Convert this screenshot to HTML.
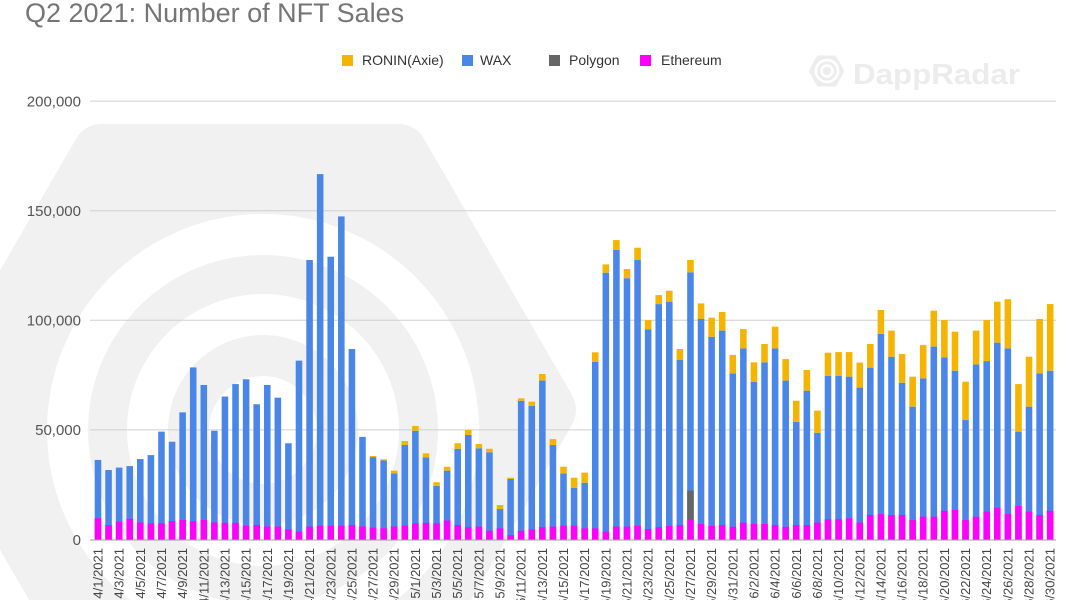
<!DOCTYPE html>
<html><head><meta charset="utf-8"><style>
html,body{margin:0;padding:0;background:#fff;width:1080px;height:600px;overflow:hidden;}
svg{display:block;font-family:"Liberation Sans",Arial,sans-serif;}
</style></head><body>
<svg width="1080" height="600" viewBox="0 0 1080 600" xmlns="http://www.w3.org/2000/svg" overflow="hidden">
<rect width="1080" height="600" fill="#fff"/>
<!-- watermark -->
<g>
<polygon points="546,410 398,666.3 102,666.3 -46,410 102,153.7 398,153.7" fill="#f1f1f1" stroke="#f1f1f1" stroke-width="60" stroke-linejoin="round"/>
<circle cx="263" cy="430" r="216" fill="#fff"/>
<circle cx="263" cy="430" r="175" fill="#f1f1f1"/>
<circle cx="263" cy="430" r="136" fill="#fff"/>
<circle cx="263" cy="430" r="95" fill="#f1f1f1"/>
<circle cx="263" cy="430" r="54" fill="#fff"/>
</g>
<!-- DappRadar logo -->
<g>
<polygon points="841,71 834,58.5 819,58.5 812,71 819,83.5 834,83.5" fill="#ededed" stroke="#ededed" stroke-width="6" stroke-linejoin="round"/>
<circle cx="827" cy="71" r="11" fill="none" stroke="#fff" stroke-width="2.5"/>
<circle cx="827" cy="71" r="5.5" fill="none" stroke="#fff" stroke-width="2.5"/>
<text x="853" y="84" font-size="29" font-weight="bold" fill="#ececec" textLength="167" lengthAdjust="spacingAndGlyphs">DappRadar</text>
</g>
<!-- title -->
<text x="25" y="22" font-size="27" fill="#757575">Q2 2021: Number of NFT Sales</text>
<!-- legend -->
<g font-size="14" fill="#333">
<rect x="342" y="55" width="11" height="11" fill="#f4b400"/><text x="362" y="65">RONIN(Axie)</text>
<rect x="462" y="55" width="11" height="11" fill="#4a86e8"/><text x="480" y="65">WAX</text>
<rect x="549" y="55" width="11" height="11" fill="#666666"/><text x="569" y="65">Polygon</text>
<rect x="640" y="55" width="11" height="11" fill="#ff00ff"/><text x="661" y="65">Ethereum</text>
</g>
<!-- gridlines -->
<g stroke="#d0d0d0" stroke-width="1">
<line x1="90" y1="101.1" x2="1056" y2="101.1"/>
<line x1="90" y1="210.7" x2="1056" y2="210.7"/>
<line x1="90" y1="320.3" x2="1056" y2="320.3"/>
<line x1="90" y1="429.9" x2="1056" y2="429.9"/>
</g>
<!-- y labels -->
<g font-size="15" fill="#555" text-anchor="end">
<text x="81" y="106.5">200,000</text>
<text x="81" y="216">150,000</text>
<text x="81" y="325.5">100,000</text>
<text x="81" y="435">50,000</text>
<text x="81" y="545">0</text>
</g>
<!-- bars -->
<g transform="translate(94.7,539.5) scale(10.58,-2.192)">
<g fill="#4a86e8">
<rect x="0" y="0" width="0.62" height="36.3"/>
<rect x="1" y="0" width="0.62" height="31.7"/>
<rect x="2" y="0" width="0.62" height="32.8"/>
<rect x="3" y="0" width="0.62" height="33.5"/>
<rect x="4" y="0" width="0.62" height="36.7"/>
<rect x="5" y="0" width="0.62" height="38.5"/>
<rect x="6" y="0" width="0.62" height="49.2"/>
<rect x="7" y="0" width="0.62" height="44.6"/>
<rect x="8" y="0" width="0.62" height="58.0"/>
<rect x="9" y="0" width="0.62" height="78.5"/>
<rect x="10" y="0" width="0.62" height="70.5"/>
<rect x="11" y="0" width="0.62" height="49.6"/>
<rect x="12" y="0" width="0.62" height="65.2"/>
<rect x="13" y="0" width="0.62" height="70.9"/>
<rect x="14" y="0" width="0.62" height="73.1"/>
<rect x="15" y="0" width="0.62" height="61.7"/>
<rect x="16" y="0" width="0.62" height="70.5"/>
<rect x="17" y="0" width="0.62" height="64.7"/>
<rect x="18" y="0" width="0.62" height="43.9"/>
<rect x="19" y="0" width="0.62" height="81.6"/>
<rect x="20" y="0" width="0.62" height="127.5"/>
<rect x="21" y="0" width="0.62" height="166.7"/>
<rect x="22" y="0" width="0.62" height="129.0"/>
<rect x="23" y="0" width="0.62" height="147.4"/>
<rect x="24" y="0" width="0.62" height="86.9"/>
<rect x="25" y="0" width="0.62" height="46.8"/>
<rect x="26" y="0" width="0.62" height="37.6"/>
<rect x="27" y="0" width="0.62" height="36.1"/>
<rect x="28" y="0" width="0.62" height="30.2"/>
<rect x="29" y="0" width="0.62" height="43.1"/>
<rect x="30" y="0" width="0.62" height="49.6"/>
<rect x="31" y="0" width="0.62" height="37.5"/>
<rect x="32" y="0" width="0.62" height="24.5"/>
<rect x="33" y="0" width="0.62" height="31.4"/>
<rect x="34" y="0" width="0.62" height="41.4"/>
<rect x="35" y="0" width="0.62" height="47.7"/>
<rect x="36" y="0" width="0.62" height="41.6"/>
<rect x="37" y="0" width="0.62" height="39.8"/>
<rect x="38" y="0" width="0.62" height="13.9"/>
<rect x="39" y="0" width="0.62" height="27.6"/>
<rect x="40" y="0" width="0.62" height="63.3"/>
<rect x="41" y="0" width="0.62" height="61.0"/>
<rect x="42" y="0" width="0.62" height="72.5"/>
<rect x="43" y="0" width="0.62" height="43.1"/>
<rect x="44" y="0" width="0.62" height="30.2"/>
<rect x="45" y="0" width="0.62" height="23.6"/>
<rect x="46" y="0" width="0.62" height="25.9"/>
<rect x="47" y="0" width="0.62" height="81.1"/>
<rect x="48" y="0" width="0.62" height="121.7"/>
<rect x="49" y="0" width="0.62" height="132.1"/>
<rect x="50" y="0" width="0.62" height="119.2"/>
<rect x="51" y="0" width="0.62" height="127.5"/>
<rect x="52" y="0" width="0.62" height="95.9"/>
<rect x="53" y="0" width="0.62" height="107.4"/>
<rect x="54" y="0" width="0.62" height="108.5"/>
<rect x="55" y="0" width="0.62" height="81.9"/>
<rect x="56" y="0" width="0.62" height="121.9"/>
<rect x="57" y="0" width="0.62" height="100.6"/>
<rect x="58" y="0" width="0.62" height="92.5"/>
<rect x="59" y="0" width="0.62" height="95.3"/>
<rect x="60" y="0" width="0.62" height="75.8"/>
<rect x="61" y="0" width="0.62" height="87.2"/>
<rect x="62" y="0" width="0.62" height="72.0"/>
<rect x="63" y="0" width="0.62" height="80.8"/>
<rect x="64" y="0" width="0.62" height="87.2"/>
<rect x="65" y="0" width="0.62" height="72.5"/>
<rect x="66" y="0" width="0.62" height="53.7"/>
<rect x="67" y="0" width="0.62" height="67.9"/>
<rect x="68" y="0" width="0.62" height="48.7"/>
<rect x="69" y="0" width="0.62" height="74.7"/>
<rect x="70" y="0" width="0.62" height="74.7"/>
<rect x="71" y="0" width="0.62" height="74.3"/>
<rect x="72" y="0" width="0.62" height="69.3"/>
<rect x="73" y="0" width="0.62" height="78.4"/>
<rect x="74" y="0" width="0.62" height="93.8"/>
<rect x="75" y="0" width="0.62" height="83.4"/>
<rect x="76" y="0" width="0.62" height="71.5"/>
<rect x="77" y="0" width="0.62" height="60.6"/>
<rect x="78" y="0" width="0.62" height="73.5"/>
<rect x="79" y="0" width="0.62" height="88.0"/>
<rect x="80" y="0" width="0.62" height="83.1"/>
<rect x="81" y="0" width="0.62" height="77.0"/>
<rect x="82" y="0" width="0.62" height="54.5"/>
<rect x="83" y="0" width="0.62" height="79.9"/>
<rect x="84" y="0" width="0.62" height="81.4"/>
<rect x="85" y="0" width="0.62" height="89.8"/>
<rect x="86" y="0" width="0.62" height="87.2"/>
<rect x="87" y="0" width="0.62" height="49.2"/>
<rect x="88" y="0" width="0.62" height="60.6"/>
<rect x="89" y="0" width="0.62" height="75.8"/>
<rect x="90" y="0" width="0.62" height="77.0"/>
</g>
<g fill="#ff00ff">
<rect x="0" y="0" width="0.62" height="9.7"/>
<rect x="1" y="0" width="0.62" height="6.6"/>
<rect x="2" y="0" width="0.62" height="8.1"/>
<rect x="3" y="0" width="0.62" height="9.4"/>
<rect x="4" y="0" width="0.62" height="7.8"/>
<rect x="5" y="0" width="0.62" height="7.4"/>
<rect x="6" y="0" width="0.62" height="7.4"/>
<rect x="7" y="0" width="0.62" height="8.4"/>
<rect x="8" y="0" width="0.62" height="8.9"/>
<rect x="9" y="0" width="0.62" height="8.4"/>
<rect x="10" y="0" width="0.62" height="8.9"/>
<rect x="11" y="0" width="0.62" height="7.8"/>
<rect x="12" y="0" width="0.62" height="7.6"/>
<rect x="13" y="0" width="0.62" height="7.6"/>
<rect x="14" y="0" width="0.62" height="6.3"/>
<rect x="15" y="0" width="0.62" height="6.6"/>
<rect x="16" y="0" width="0.62" height="5.9"/>
<rect x="17" y="0" width="0.62" height="5.9"/>
<rect x="18" y="0" width="0.62" height="4.6"/>
<rect x="19" y="0" width="0.62" height="3.6"/>
<rect x="20" y="0" width="0.62" height="5.9"/>
<rect x="21" y="0" width="0.62" height="6.3"/>
<rect x="22" y="0" width="0.62" height="6.3"/>
<rect x="23" y="0" width="0.62" height="6.3"/>
<rect x="24" y="0" width="0.62" height="6.6"/>
<rect x="25" y="0" width="0.62" height="5.9"/>
<rect x="26" y="0" width="0.62" height="5.4"/>
<rect x="27" y="0" width="0.62" height="5.1"/>
<rect x="28" y="0" width="0.62" height="5.9"/>
<rect x="29" y="0" width="0.62" height="6.3"/>
<rect x="30" y="0" width="0.62" height="7.4"/>
<rect x="31" y="0" width="0.62" height="7.6"/>
<rect x="32" y="0" width="0.62" height="7.4"/>
<rect x="33" y="0" width="0.62" height="8.7"/>
<rect x="34" y="0" width="0.62" height="6.6"/>
<rect x="35" y="0" width="0.62" height="5.6"/>
<rect x="36" y="0" width="0.62" height="5.9"/>
<rect x="37" y="0" width="0.62" height="4.0"/>
<rect x="38" y="0" width="0.62" height="5.1"/>
<rect x="39" y="0" width="0.62" height="2.0"/>
<rect x="40" y="0" width="0.62" height="4.0"/>
<rect x="41" y="0" width="0.62" height="4.6"/>
<rect x="42" y="0" width="0.62" height="5.6"/>
<rect x="43" y="0" width="0.62" height="5.9"/>
<rect x="44" y="0" width="0.62" height="6.3"/>
<rect x="45" y="0" width="0.62" height="6.3"/>
<rect x="46" y="0" width="0.62" height="5.1"/>
<rect x="47" y="0" width="0.62" height="5.1"/>
<rect x="48" y="0" width="0.62" height="3.6"/>
<rect x="49" y="0" width="0.62" height="5.9"/>
<rect x="50" y="0" width="0.62" height="5.9"/>
<rect x="51" y="0" width="0.62" height="6.3"/>
<rect x="52" y="0" width="0.62" height="4.8"/>
<rect x="53" y="0" width="0.62" height="5.6"/>
<rect x="54" y="0" width="0.62" height="6.2"/>
<rect x="55" y="0" width="0.62" height="6.6"/>
<rect x="56" y="0" width="0.62" height="8.9"/>
<rect x="57" y="0" width="0.62" height="7.1"/>
<rect x="58" y="0" width="0.62" height="6.2"/>
<rect x="59" y="0" width="0.62" height="6.6"/>
<rect x="60" y="0" width="0.62" height="5.8"/>
<rect x="61" y="0" width="0.62" height="7.7"/>
<rect x="62" y="0" width="0.62" height="7.1"/>
<rect x="63" y="0" width="0.62" height="7.1"/>
<rect x="64" y="0" width="0.62" height="6.6"/>
<rect x="65" y="0" width="0.62" height="5.8"/>
<rect x="66" y="0" width="0.62" height="6.6"/>
<rect x="67" y="0" width="0.62" height="6.6"/>
<rect x="68" y="0" width="0.62" height="7.7"/>
<rect x="69" y="0" width="0.62" height="9.2"/>
<rect x="70" y="0" width="0.62" height="9.2"/>
<rect x="71" y="0" width="0.62" height="9.7"/>
<rect x="72" y="0" width="0.62" height="7.7"/>
<rect x="73" y="0" width="0.62" height="11.2"/>
<rect x="74" y="0" width="0.62" height="11.6"/>
<rect x="75" y="0" width="0.62" height="11.2"/>
<rect x="76" y="0" width="0.62" height="11.2"/>
<rect x="77" y="0" width="0.62" height="8.9"/>
<rect x="78" y="0" width="0.62" height="10.4"/>
<rect x="79" y="0" width="0.62" height="10.4"/>
<rect x="80" y="0" width="0.62" height="13.1"/>
<rect x="81" y="0" width="0.62" height="13.5"/>
<rect x="82" y="0" width="0.62" height="8.9"/>
<rect x="83" y="0" width="0.62" height="10.4"/>
<rect x="84" y="0" width="0.62" height="12.7"/>
<rect x="85" y="0" width="0.62" height="14.5"/>
<rect x="86" y="0" width="0.62" height="11.6"/>
<rect x="87" y="0" width="0.62" height="15.3"/>
<rect x="88" y="0" width="0.62" height="12.7"/>
<rect x="89" y="0" width="0.62" height="11.2"/>
<rect x="90" y="0" width="0.62" height="13.1"/>
</g>
<rect x="56" y="8.9" width="0.62" height="13.4" fill="#666666"/>
<g fill="#f4b400">
<rect x="26" y="37.6" width="0.62" height="0.5"/>
<rect x="27" y="36.1" width="0.62" height="0.5"/>
<rect x="28" y="30.2" width="0.62" height="1.2"/>
<rect x="29" y="43.1" width="0.62" height="1.8"/>
<rect x="30" y="49.6" width="0.62" height="2.2"/>
<rect x="31" y="37.5" width="0.62" height="1.8"/>
<rect x="32" y="24.5" width="0.62" height="1.6"/>
<rect x="33" y="31.4" width="0.62" height="1.8"/>
<rect x="34" y="41.4" width="0.62" height="2.5"/>
<rect x="35" y="47.7" width="0.62" height="2.3"/>
<rect x="36" y="41.6" width="0.62" height="2.0"/>
<rect x="37" y="39.8" width="0.62" height="1.6"/>
<rect x="38" y="13.9" width="0.62" height="1.8"/>
<rect x="39" y="27.6" width="0.62" height="0.6"/>
<rect x="40" y="63.3" width="0.62" height="1.1"/>
<rect x="41" y="61.0" width="0.62" height="1.9"/>
<rect x="42" y="72.5" width="0.62" height="3.0"/>
<rect x="43" y="43.1" width="0.62" height="2.7"/>
<rect x="44" y="30.2" width="0.62" height="3.0"/>
<rect x="45" y="23.6" width="0.62" height="4.6"/>
<rect x="46" y="25.9" width="0.62" height="4.6"/>
<rect x="47" y="81.1" width="0.62" height="4.3"/>
<rect x="48" y="121.7" width="0.62" height="3.8"/>
<rect x="49" y="132.1" width="0.62" height="4.5"/>
<rect x="50" y="119.2" width="0.62" height="4.2"/>
<rect x="51" y="127.5" width="0.62" height="5.6"/>
<rect x="52" y="95.9" width="0.62" height="4.2"/>
<rect x="53" y="107.4" width="0.62" height="4.1"/>
<rect x="54" y="108.5" width="0.62" height="5.0"/>
<rect x="55" y="81.9" width="0.62" height="5.0"/>
<rect x="56" y="121.9" width="0.62" height="5.6"/>
<rect x="57" y="100.6" width="0.62" height="7.1"/>
<rect x="58" y="92.5" width="0.62" height="8.7"/>
<rect x="59" y="95.3" width="0.62" height="8.5"/>
<rect x="60" y="75.8" width="0.62" height="8.4"/>
<rect x="61" y="87.2" width="0.62" height="8.8"/>
<rect x="62" y="72.0" width="0.62" height="8.8"/>
<rect x="63" y="80.8" width="0.62" height="8.4"/>
<rect x="64" y="87.2" width="0.62" height="9.9"/>
<rect x="65" y="72.5" width="0.62" height="9.8"/>
<rect x="66" y="53.7" width="0.62" height="9.6"/>
<rect x="67" y="67.9" width="0.62" height="9.4"/>
<rect x="68" y="48.7" width="0.62" height="10.1"/>
<rect x="69" y="74.7" width="0.62" height="10.5"/>
<rect x="70" y="74.7" width="0.62" height="10.8"/>
<rect x="71" y="74.3" width="0.62" height="11.2"/>
<rect x="72" y="69.3" width="0.62" height="11.4"/>
<rect x="73" y="78.4" width="0.62" height="10.8"/>
<rect x="74" y="93.8" width="0.62" height="10.9"/>
<rect x="75" y="83.4" width="0.62" height="11.9"/>
<rect x="76" y="71.5" width="0.62" height="13.1"/>
<rect x="77" y="60.6" width="0.62" height="13.7"/>
<rect x="78" y="73.5" width="0.62" height="15.2"/>
<rect x="79" y="88.0" width="0.62" height="16.4"/>
<rect x="80" y="83.1" width="0.62" height="17.0"/>
<rect x="81" y="77.0" width="0.62" height="17.8"/>
<rect x="82" y="54.5" width="0.62" height="17.5"/>
<rect x="83" y="79.9" width="0.62" height="15.4"/>
<rect x="84" y="81.4" width="0.62" height="18.7"/>
<rect x="85" y="89.8" width="0.62" height="18.7"/>
<rect x="86" y="87.2" width="0.62" height="22.4"/>
<rect x="87" y="49.2" width="0.62" height="21.7"/>
<rect x="88" y="60.6" width="0.62" height="22.8"/>
<rect x="89" y="75.8" width="0.62" height="24.8"/>
<rect x="90" y="77.0" width="0.62" height="30.4"/>
</g>
</g>
<!-- baseline -->
<line x1="90" y1="540" x2="1056" y2="540" stroke="#9e9e9e" stroke-width="1"/>
<!-- x labels -->
<g font-size="13" fill="#444" text-anchor="end">
<text transform="translate(102.5 548) rotate(-90)">4/1/2021</text>
<text transform="translate(123.66 548) rotate(-90)">4/3/2021</text>
<text transform="translate(144.82 548) rotate(-90)">4/5/2021</text>
<text transform="translate(165.98 548) rotate(-90)">4/7/2021</text>
<text transform="translate(187.14 548) rotate(-90)">4/9/2021</text>
<text transform="translate(208.3 548) rotate(-90)">4/11/2021</text>
<text transform="translate(229.46 548) rotate(-90)">4/13/2021</text>
<text transform="translate(250.62 548) rotate(-90)">4/15/2021</text>
<text transform="translate(271.78 548) rotate(-90)">4/17/2021</text>
<text transform="translate(292.94 548) rotate(-90)">4/19/2021</text>
<text transform="translate(314.1 548) rotate(-90)">4/21/2021</text>
<text transform="translate(335.26 548) rotate(-90)">4/23/2021</text>
<text transform="translate(356.42 548) rotate(-90)">4/25/2021</text>
<text transform="translate(377.58 548) rotate(-90)">4/27/2021</text>
<text transform="translate(398.74 548) rotate(-90)">4/29/2021</text>
<text transform="translate(419.9 548) rotate(-90)">5/1/2021</text>
<text transform="translate(441.06 548) rotate(-90)">5/3/2021</text>
<text transform="translate(462.22 548) rotate(-90)">5/5/2021</text>
<text transform="translate(483.38 548) rotate(-90)">5/7/2021</text>
<text transform="translate(504.54 548) rotate(-90)">5/9/2021</text>
<text transform="translate(525.7 548) rotate(-90)">5/11/2021</text>
<text transform="translate(546.86 548) rotate(-90)">5/13/2021</text>
<text transform="translate(568.02 548) rotate(-90)">5/15/2021</text>
<text transform="translate(589.18 548) rotate(-90)">5/17/2021</text>
<text transform="translate(610.34 548) rotate(-90)">5/19/2021</text>
<text transform="translate(631.5 548) rotate(-90)">5/21/2021</text>
<text transform="translate(652.66 548) rotate(-90)">5/23/2021</text>
<text transform="translate(673.82 548) rotate(-90)">5/25/2021</text>
<text transform="translate(694.98 548) rotate(-90)">5/27/2021</text>
<text transform="translate(716.14 548) rotate(-90)">5/29/2021</text>
<text transform="translate(737.3 548) rotate(-90)">5/31/2021</text>
<text transform="translate(758.46 548) rotate(-90)">6/2/2021</text>
<text transform="translate(779.62 548) rotate(-90)">6/4/2021</text>
<text transform="translate(800.78 548) rotate(-90)">6/6/2021</text>
<text transform="translate(821.94 548) rotate(-90)">6/8/2021</text>
<text transform="translate(843.1 548) rotate(-90)">6/10/2021</text>
<text transform="translate(864.26 548) rotate(-90)">6/12/2021</text>
<text transform="translate(885.42 548) rotate(-90)">6/14/2021</text>
<text transform="translate(906.58 548) rotate(-90)">6/16/2021</text>
<text transform="translate(927.74 548) rotate(-90)">6/18/2021</text>
<text transform="translate(948.9 548) rotate(-90)">6/20/2021</text>
<text transform="translate(970.06 548) rotate(-90)">6/22/2021</text>
<text transform="translate(991.22 548) rotate(-90)">6/24/2021</text>
<text transform="translate(1012.38 548) rotate(-90)">6/26/2021</text>
<text transform="translate(1033.54 548) rotate(-90)">6/28/2021</text>
<text transform="translate(1054.7 548) rotate(-90)">6/30/2021</text>
</g>
</svg>
</body></html>
